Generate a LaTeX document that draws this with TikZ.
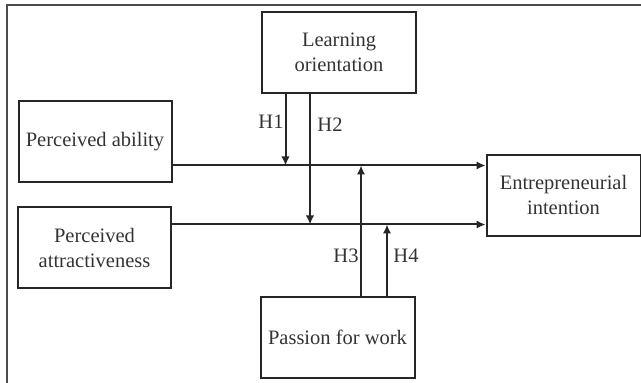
\documentclass[tikz,border=0pt]{standalone}
\usepackage{fontspec}
\setmainfont{Liberation Serif}
\usetikzlibrary{arrows.meta}
\begin{document}
\begin{tikzpicture}[x=0.5pt,y=-0.5pt,
  box/.style={draw=black!85,line width=1pt,inner sep=0pt,align=center,
    font=\fontsize{10.25pt}{12.5pt}\selectfont,text=black!80},
  conn/.style={draw=black!85,line width=1pt},
  arr/.style={conn,-{Latex[length=4.5pt,width=4.2pt]}},
  lab/.style={font=\fontsize{10.25pt}{12.5pt}\selectfont,text=black!80,inner sep=0pt}]
\useasboundingbox (0,0) rectangle (641,383);
\draw[black!70,line width=0.8pt] (7,383) -- (7,5) -- (641,5);
\node[box,minimum width=77pt,minimum height=40.5pt] (lo) at (339,52.5) {Learning\\orientation};
\node[box,minimum width=76.5pt,minimum height=40.5pt] (pa) at (95,141.2) {Perceived ability};
\node[box,minimum width=76.5pt,minimum height=40.5pt] (pt) at (94.5,247.5) {Perceived\\attractiveness};
\node[box,minimum width=77pt,minimum height=40.5pt] (ei) at (563.5,195.2) {Entrepreneurial\\intention};
\node[box,minimum width=77pt,minimum height=40.5pt] (pw) at (337.5,337.3) {Passion for work};
\coordinate (r1) at (pa.east |- 0,165.5);
\coordinate (r2) at (pt.east |- 0,224.5);
\draw[arr] (r1) -- (ei.west |- r1);
\draw[arr] (r2) -- (ei.west |- r2);
\coordinate (h1) at (285.5,0);
\coordinate (h2) at (310,0);
\coordinate (h3) at (361,0);
\coordinate (h4) at (387,0);
\draw[arr] (h1 |- lo.south) -- (h1 |- r1);
\draw[arr] (h2 |- lo.south) -- (h2 |- r2);
\draw[arr] (h3 |- pw.north) -- (h3 |- r1);
\draw[arr] (h4 |- pw.north) -- (h4 |- r2);
\node[lab] (l1) at (271,122) {H1};
\node[lab] (l2) at (330,124.5) {H2};
\node[lab] (l3) at (346,256) {H3};
\node[lab] (l4) at (406,256) {H4};
\end{tikzpicture}
\end{document}
